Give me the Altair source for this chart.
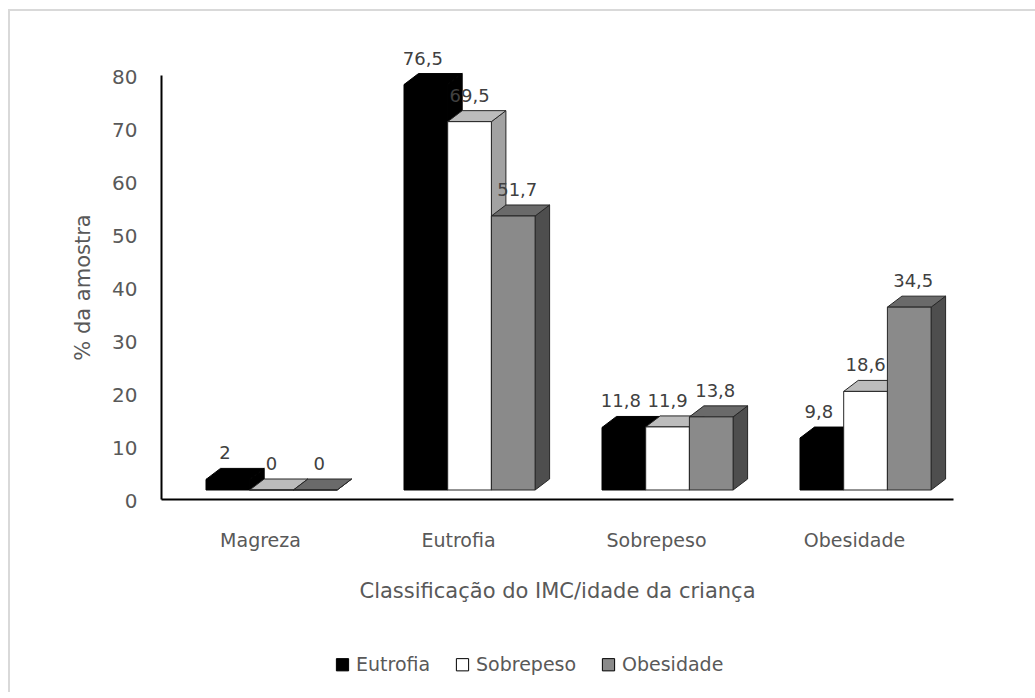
import altair as alt
import pandas as pd

# --- data -------------------------------------------------------------
categories = ["Magreza", "Eutrofia", "Sobrepeso", "Obesidade"]
series = ["Eutrofia", "Sobrepeso", "Obesidade"]
eutrofia = [2, 76.5, 11.8, 9.8]
sobrepeso = [0, 69.5, 11.9, 18.6]
obesidade = [0, 51.7, 13.8, 34.5]
y_ticks = [0, 10, 20, 30, 40, 50, 60, 70, 80]

values_by_series = [eutrofia, sobrepeso, obesidade]

# --- geometry of the pseudo-3D columns ----------------------------------
PLOT_W, PLOT_H = 792, 424
X_MAX, Y_MAX = len(categories), 80
PX_X = PLOT_W / X_MAX          # pixels per category unit
PX_Y = PLOT_H / Y_MAX          # pixels per percentage point

LEFT = 45 / PX_X               # gap from band start to first column
BAR_W = 43.7 / PX_X            # column width
DEPTH_X = 14.5 / PX_X          # receding depth, horizontal
DEPTH_Y = 11 / PX_Y            # receding depth, vertical
FLOOR = 9 / PX_Y               # columns stand on a floor above the axis

FONT = "DejaVu Sans"
TEXT = "#595959"

front_fill = ["#000000", "#ffffff", "#8a8a8a"]
top_fill = ["#000000", "#bcbcbc", "#6a6a6a"]
side_fill = ["#000000", "#a2a2a2", "#4e4e4e"]
edge = ["#000000", "#262626", "#262626"]
label_dx = [-3, 0, 4]          # small horizontal nudge of value labels per series


def fmt(v):
    return f"{v:g}".replace(".", ",")


front_rows, top_rows, side_rows = [], [], []
for j, (name, vals) in enumerate(zip(series, values_by_series)):
    for i, (cat, v) in enumerate(zip(categories, vals)):
        x0 = i + LEFT + j * BAR_W
        x1 = x0 + BAR_W
        yb = FLOOR
        yt = FLOOR + v
        bar = f"{name}-{cat}"
        front_rows.append(dict(series=name, cat=cat, x0=x0, x1=x1, yb=yb, yt=yt,
                               xc=(x0 + x1) / 2 + label_dx[j] / PX_X,
                               label=fmt(v), bar=bar))
        top_rows += [
            dict(series=name, bar=bar, ty=yt, tx=x0, tx2=x1),
            dict(series=name, bar=bar, ty=yt + DEPTH_Y, tx=x0 + DEPTH_X, tx2=x1 + DEPTH_X),
        ]
        side_rows += [
            dict(series=name, bar=bar, sx=x1, sy=yt, sy2=yb),
            dict(series=name, bar=bar, sx=x1 + DEPTH_X, sy=yt + DEPTH_Y, sy2=yb + DEPTH_Y),
        ]

front_df = pd.DataFrame(front_rows)
top_df = pd.DataFrame(top_rows)
side_df = pd.DataFrame(side_rows)

# --- shared scales and axes ---------------------------------------------
x_scale = alt.Scale(domain=[0, X_MAX], nice=False, zero=False)
y_scale = alt.Scale(domain=[0, Y_MAX], nice=False)

label_expr = "[" + ",".join(f"'{c}'" for c in categories) + "][floor(datum.value)]"
x_axis = alt.Axis(
    values=[i + 0.5 for i in range(len(categories))],
    labelExpr=label_expr,
    ticks=False, grid=False, labelFlush=False, labelOverlap=False,
    domainColor="#000000", domainWidth=2,
    labelFont=FONT, labelFontSize=19, labelColor=TEXT, labelPadding=32,
    title="Classificação do IMC/idade da criança",
    titleFont=FONT, titleFontSize=21, titleFontWeight="normal", titleColor=TEXT,
    titlePadding=30,
)
y_axis = alt.Axis(
    values=y_ticks, ticks=False, grid=False,
    domainColor="#000000", domainWidth=2,
    labelFont=FONT, labelFontSize=20, labelColor=TEXT, labelPadding=24,
    labelOffset=2,
    title="% da amostra",
    titleFont=FONT, titleFontSize=21, titleFontWeight="normal", titleColor=TEXT,
    titlePadding=18,
)


def X(field):
    return alt.X(field, type="quantitative", scale=x_scale, axis=x_axis)


def Y(field):
    return alt.Y(field, type="quantitative", scale=y_scale, axis=y_axis)


color = alt.Color(
    "series:N",
    scale=alt.Scale(domain=series, range=front_fill),
    legend=alt.Legend(
        title=None, orient="none", direction="horizontal",
        legendX=172, legendY=580,
        symbolType="square", symbolSize=150,
        symbolStrokeColor="#000000", symbolStrokeWidth=1,
        labelFont=FONT, labelFontSize=19, labelColor=TEXT,
        labelOffset=4, columnPadding=22,
    ),
)

layers = []
for j, name in enumerate(series):
    side = alt.Chart(side_df[side_df.series == name]).mark_area(
        orient="vertical", fill=side_fill[j], stroke=edge[j], strokeWidth=1,
        fillOpacity=1,
    ).encode(x=X("sx"), y=Y("sy"), y2="sy2", detail="bar:N")
    top = alt.Chart(top_df[top_df.series == name]).mark_area(
        orient="horizontal", fill=top_fill[j], stroke=edge[j], strokeWidth=1,
        fillOpacity=1,
    ).encode(y=Y("ty"), x=X("tx"), x2="tx2", detail="bar:N")
    front = alt.Chart(front_df[front_df.series == name]).mark_bar(
        stroke=edge[j], strokeWidth=1, opacity=1,
    ).encode(x=X("x0"), x2="x1", y=Y("yb"), y2="yt", color=color)
    layers += [side, top, front]

labels = alt.Chart(front_df).mark_text(
    font=FONT, fontSize=18, color="#404040", dy=-25, baseline="middle",
).encode(x=X("xc"), y=Y("yt"), text="label:N")

# light frame edges (top and left) around the whole figure
frame_src = front_df.head(1)
frame_top = alt.Chart(frame_src).mark_rule(color="#d9d9d9", strokeWidth=2).encode(
    x=alt.value(-152), x2=alt.value(PLOT_W + 300), y=alt.value(-65),
)
frame_left = alt.Chart(frame_src).mark_rule(color="#d9d9d9", strokeWidth=2).encode(
    x=alt.value(-152), y=alt.value(-66), y2=alt.value(PLOT_H + 400),
)

TOTAL_W, TOTAL_H = 1035, 692
chart = alt.layer(frame_top, frame_left, *layers, labels).properties(
    width=PLOT_W, height=PLOT_H,
    autosize=alt.AutoSizeParams(type="none"),
    padding={"left": 161, "top": 75,
             "right": TOTAL_W - 161 - PLOT_W, "bottom": TOTAL_H - 75 - PLOT_H},
    background="#ffffff",
).configure_view(stroke=None)

chart.save("out.html", embed_options={"renderer": "svg", "actions": False})
